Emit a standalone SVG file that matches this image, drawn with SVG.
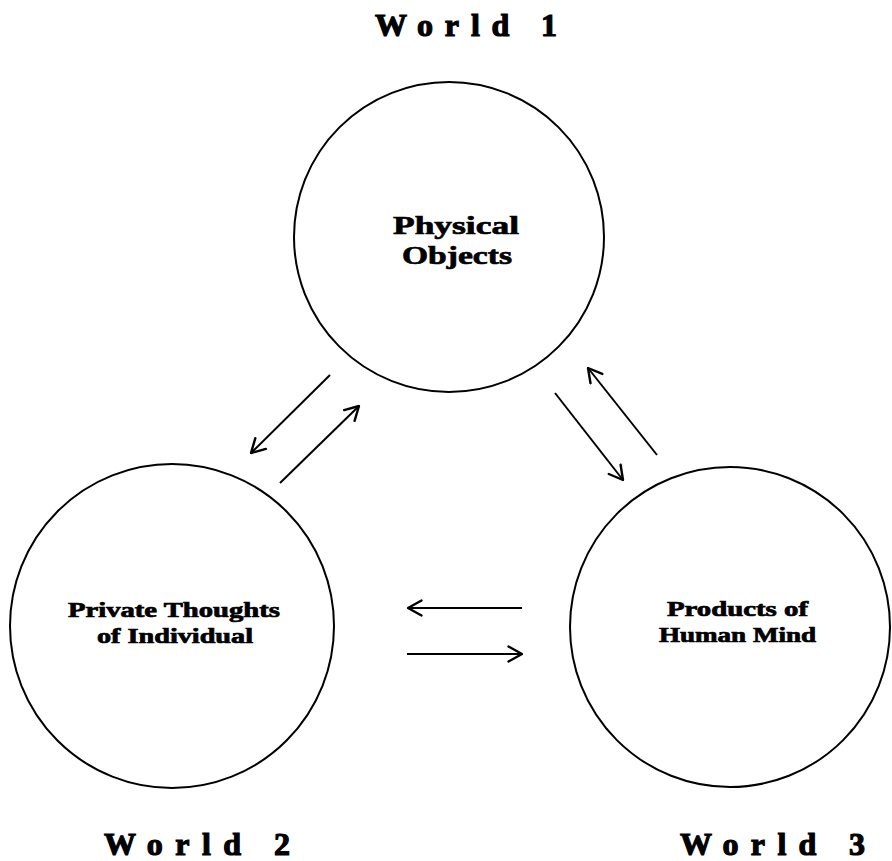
<svg xmlns="http://www.w3.org/2000/svg" width="892" height="861" viewBox="0 0 892 861">
  <defs>
    <marker id="open" markerUnits="userSpaceOnUse" viewBox="0 0 16 18" refX="15" refY="9" markerWidth="16" markerHeight="18" orient="auto">
      <path d="M1.5,1.5 L15,9 L1.5,16.5" fill="none" stroke="#000" stroke-width="2.4" stroke-linecap="round" stroke-linejoin="round"/>
    </marker>
    <style>
      .node circle { fill: #fff; stroke: #000; stroke-width: 2; }
      .lbl { font-family: "Liberation Serif", "DejaVu Serif", serif; font-weight: bold; fill: #000; stroke: #000; stroke-width: 0.7; }
      .world { font-size: 32px; stroke-width: 1.2; }
      .inner { font-size: 20px; }
      .big { font-size: 26px; }
      .conn line { stroke: #000; stroke-width: 2; marker-end: url(#open); }
    </style>
  </defs>
  <rect width="892" height="861" fill="#fff"/>

  <g id="world1-label">
    <text class="lbl world" x="375" y="36" textLength="182" lengthAdjust="spacing">World 1</text>
  </g>
  <g id="world2-label">
    <text class="lbl world" x="104" y="855" textLength="186" lengthAdjust="spacing">World 2</text>
  </g>
  <g id="world3-label">
    <text class="lbl world" x="680" y="855" textLength="185" lengthAdjust="spacing">World 3</text>
  </g>

  <g id="physical-objects" class="node">
    <circle cx="449" cy="237" r="155"/>
    <text class="lbl big" x="393" y="234" textLength="126" lengthAdjust="spacingAndGlyphs">Physical</text>
    <text class="lbl big" x="402" y="264" textLength="110" lengthAdjust="spacingAndGlyphs">Objects</text>
  </g>

  <g id="private-thoughts" class="node">
    <circle cx="172" cy="626" r="162"/>
    <text class="lbl inner" x="68" y="617" textLength="212" lengthAdjust="spacingAndGlyphs">Private Thoughts</text>
    <text class="lbl inner" x="97" y="643" textLength="156" lengthAdjust="spacingAndGlyphs">of Individual</text>
  </g>

  <g id="products-mind" class="node">
    <circle cx="730" cy="627" r="160"/>
    <text class="lbl inner" x="667" y="616" textLength="141" lengthAdjust="spacingAndGlyphs">Products of</text>
    <text class="lbl inner" x="659" y="642" textLength="157" lengthAdjust="spacingAndGlyphs">Human Mind</text>
  </g>

  <g id="connectors" class="conn">
    <line x1="330" y1="375" x2="251" y2="453"/>
    <line x1="280" y1="483" x2="359" y2="406"/>
    <line x1="555" y1="393" x2="623" y2="480"/>
    <line x1="657" y1="455" x2="588" y2="368"/>
    <line x1="522" y1="608" x2="408" y2="608"/>
    <line x1="407" y1="654" x2="522" y2="654"/>
  </g>
</svg>
